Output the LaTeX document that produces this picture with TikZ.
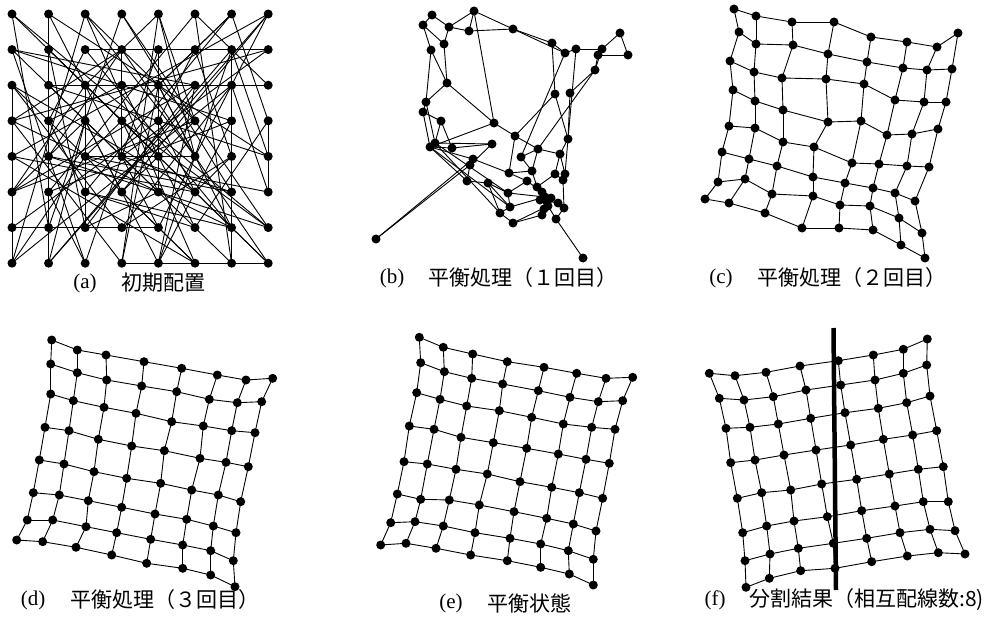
\documentclass[tikz,border=0pt]{standalone}
\usepackage{fontspec}
\newfontfamily\jpfont{Noto Sans CJK JP}
\newfontfamily\tagfont{Liberation Serif}
\usetikzlibrary{calc}

\tikzset{
  link/.style={line width=0.9pt},
  cutline/.style={line width=4.5pt},
  tag/.style={font=\tagfont\fontsize{21}{21}\selectfont, inner sep=0pt},
  caption/.style={font=\jpfont\fontsize{21}{21}\selectfont, anchor=west, inner sep=0pt}
}

\begin{document}
\begin{tikzpicture}[x=1pt,y=-1pt]
\useasboundingbox (0,0) rectangle (1002,618);

% (a) grid neighbours sitting on shuffled grid spots
\foreach \q [count=\k from 0] in {23,5,41,58,12,36,0,49,17,62,30,8,44,27,55,3,
  39,14,60,21,50,9,33,46,1,57,26,40,18,63,11,35,52,7,43,29,4,59,24,15,
  48,32,61,2,37,20,54,10,28,45,16,56,34,6,42,25,13,38,51,22,47,31,53,19}
{
    \pgfmathtruncatemacro{\pr}{div(\q,8)}
    \pgfmathtruncatemacro{\pc}{mod(\q,8)}
    \coordinate (a-\k) at (12+36.6*\pc, 14+35.6*\pr);
}
\foreach \k in {0,...,63}
{
    \pgfmathtruncatemacro{\kr}{\k+1}
    \pgfmathtruncatemacro{\kd}{\k+8}
    \pgfmathtruncatemacro{\kc}{mod(\k,8)}
    \ifnum\kc<7 \draw[link] (a-\k) -- (a-\kr); \fi
    \ifnum\k<56 \draw[link] (a-\k) -- (a-\kd); \fi
}
\foreach \k in {0,...,63} \fill (a-\k) circle (4.5pt);

% (b) after the first pass
\foreach \x/\y [count=\k] in {474/11,432/15,423/25,449/27,469/31,513/29,444/44,431/50,
  552/43,565/53,576/49,602/49,598/55,620/33,628/55,595/70,447/83,426/102,423/112,
  555/94,570/93,441/121,494/123,515/136,568/139,430/147,435/143,452/148,492/144,
  538/149,521/157,560/154,473/159,470/165,509/173,532/171,555/174,565/174,467/181,
  488/183,527/181,537/187,563/180,508/193,545/197,547/202,548/206,558/203,564/208,
  510/207,500/213,542/215,556/219,513/223,376/239,583/258,542/192,540/200,551/198,544/209}
{
    \coordinate (b-\k) at (\x,\y);
}
\foreach \s/\t in {1/4,1/5,1/6,1/23,2/4,2/3,3/8,3/7,4/7,5/6,4/5,6/9,6/10,9/10,9/20,
  10/31,11/12,11/25,12/14,12/16,13/15,14/15,13/16,16/21,16/30,7/17,8/17,8/18,17/18,
  17/23,18/19,18/27,19/22,19/26,22/27,22/28,23/24,23/26,20/24,20/25,21/25,24/35,
  24/30,25/38,25/32,30/32,30/31,30/36,31/36,32/37,32/38,26/28,27/29,28/29,29/34,
  26/33,26/39,27/44,26/50,27/51,33/55,34/55,33/34,34/39,33/35,35/36,35/41,36/42,
  37/43,38/43,43/49,37/42,39/40,40/44,40/51,40/50,41/44,41/57,44/45,44/50,42/57,
  57/59,59/45,45/46,46/47,47/52,46/58,58/48,48/49,49/53,47/53,53/56,50/51,51/54,
  54/52,52/60,54/47,50/45,10/11}
{
    \draw[link] (b-\s) -- (b-\t);
}
\foreach \k in {1,...,60} \fill (b-\k) circle (4.5pt);

% (c) after the second pass
\foreach \x/\y [count=\n from 0] in {734/9,756/16,792/22,834/22,871/37,907/42,937/47,958/33,
  739/32,756/44,793/45,828/54,867/62,903/68,927/70,952/69,
  730/61,754/72,782/78,826/79,864/84,895/100,924/102,946/102,
  733/90,755/101,783/110,828/122,861/121,887/135,912/134,938/129,
  729/126,755/128,783/142,814/147,852/163,879/164,907/166,929/167,
  722/152,749/159,777/166,813/177,845/183,873/188,895/193,915/201,
  718/182,745/179,772/194,813/196,840/205,870/206,899/218,922/233,
  705/199,729/203,765/213,802/228,839/228,873/230,901/245,925/258}
{
    \pgfmathtruncatemacro{\rw}{div(\n,8)}
    \pgfmathtruncatemacro{\cl}{mod(\n,8)}
    \coordinate (c-\rw-\cl) at (\x,\y);
}

% (d) after the third pass
\foreach \x/\y [count=\n from 0] in {51.7/340,77.3/350,106/355,144/361.7,181.7/368.3,217.3/375,246/380,272.7/378.3,
  50.7/364,77.3/372.7,106.7/380,141.7/386,176.7/391.7,209.3/399.3,237.3/402.7,261.7/401.7,
  50.7/394,73.3/400.7,104/407.3,136/413.3,171.7/421.7,203.3/426,231.7/430.7,255/432.7,
  45/427.3,69/430.7,98.3/439.3,131.7/446,164.3/450.7,200/458.3,226/462.3,248.3/466.7,
  39.3/460,64/464,94/471.7,126.7/478.3,160.7/483.3,191.7/490,218.3/495,240.7/501.7,
  33.3/492.7,59.3/495,88.3/500.7,121.7/507.3,155/514,186.7/519.3,213.3/526,236/532.7,
  27.3/520,52.7/520,86/526.7,116.7/532.7,150.7/539.3,182.7/545,210.7/550.7,233.3/560.7,
  16.7/540,42.7/541.7,76/547.3,111.7/555,146.7/563.3,182.7/568.3,210.7/575,235/586.7}
{
    \pgfmathtruncatemacro{\rw}{div(\n,8)}
    \pgfmathtruncatemacro{\cl}{mod(\n,8)}
    \coordinate (d-\rw-\cl) at (\x,\y);
}

% (e) balanced state
\foreach \x/\y [count=\n from 0] in {419.3/337.3,443.3/347.3,472.7/354,507.3/361.7,544/367.3,576.7/373.3,606/378.3,632.7/377.3,
  420.7/362.7,444.3/371.7,471.7/378.3,502.7/384,538.3/390.7,570/397.3,598.3/401.7,622.7/400.7,
  416.7/392.7,440/399.3,466.7/406,499.3/410.7,531.7/417.3,563.3/424,591.7/427.3,615/429.3,
  409.3/426,434/429.3,461/437.3,493.3/442.7,526.7/448.3,558.3/454,586/459.3,609.3/463.3,
  404/461.7,427.3/464,456/469.3,487.3/474,520/481.7,551.7/487.3,579.3/492.7,602.7/498.3,
  397.3/494,420.7/499.3,449.3/500,479.3/505,514/511.7,546.7/518.3,573.3/524,596/531,
  390.7/522.7,415/521.7,443.3/526,475/532.7,510/538.3,540.7/544,568.3/550.7,593.3/559.3,
  380.7/545,406/543.3,436/548.3,470.7/555,507.3/560.7,540.7/567.3,569.3/574,593.3/585}
{
    \pgfmathtruncatemacro{\rw}{div(\n,8)}
    \pgfmathtruncatemacro{\cl}{mod(\n,8)}
    \coordinate (e-\rw-\cl) at (\x,\y);
}

% (f) split result, left half cols 0-3, right half cols 4-7
\foreach \x/\y [count=\n from 0] in {709.3/373.3,735/375.7,766/372.3,800/366,838.3/360.7,873.3/355,903.3/349.3,927.3/339,
  719.3/398.3,744/400,773.3/396.7,806/390,840.7/385,875/380,903.3/373.3,926.7/365,
  726/428.3,750/427.3,778.3/424,810.7/418.3,845/412.7,878.3/408.3,906.7/402.7,930/396,
  730.7/462.7,755/460,784/455,816/450,850.7/445,883.3/439.3,912.7/435,936.7/430.7,
  737.3/498.3,761.7/492.7,790.7/490,821.7/484,856.7/479.3,889.3/474,918.3/469.3,943.3/466.7,
  742.7/532.7,766.7/526,794/521,827.3/516.7,861.7/510.7,895/506,923.3/501.7,948.3/501.7,
  745/560.7,770/554,798.3/548.3,833.3/543.3,866.7/538.3,900/532.7,930/529.3,955/530.7,
  746/587.3,769.3/578.3,800.7/570.7,835/568.3,871.7/561.7,907.3/556,938.3/552.7,965/554}
{
    \pgfmathtruncatemacro{\rw}{div(\n,8)}
    \pgfmathtruncatemacro{\cl}{mod(\n,8)}
    \coordinate (f-\rw-\cl) at (\x,\y);
}

% mesh links and dots for (c)-(f)
\foreach \p in {c,d,e,f}
{
    \foreach \rw in {0,...,7}
    {
        \foreach \cl in {0,...,6}
        {
            \pgfmathtruncatemacro{\nx}{\cl+1}
            \draw[link] (\p-\rw-\cl) -- (\p-\rw-\nx);
            \draw[link] (\p-\cl-\rw) -- (\p-\nx-\rw);
        }
    }
    \foreach \rw in {0,...,7}
        \foreach \cl in {0,...,7}
            \fill (\p-\rw-\cl) circle (4.5pt);
}

% cut line of (f)
\coordinate (cutTop) at (833.5,328);
\coordinate (cutBot) at (836,590);
\draw[cutline] (cutTop) -- (cutBot);

% captions
\node[tag] (tagA) at (85,283) {(a)};
\node[caption] (capA) at (121,283) {初期配置};
\node[tag] (tagB) at (392,278) {(b)};
\node[caption] (capB) at (428,278) {平衡処理（１回目）};
\node[tag] (tagC) at (721,278) {(c)};
\node[caption] (capC) at (757,278) {平衡処理（２回目）};
\node[tag] (tagD) at (33,600) {(d)};
\node[caption] (capD) at (70,600) {平衡処理（３回目）};
\node[tag] (tagE) at (451,603) {(e)};
\node[caption] (capE) at (487,603) {平衡状態};
\node[tag] (tagF) at (715,600) {(f)};
\node[caption] (capF) at (749,600) {分割結果（相互配線数:8)};

\end{tikzpicture}
\end{document}
